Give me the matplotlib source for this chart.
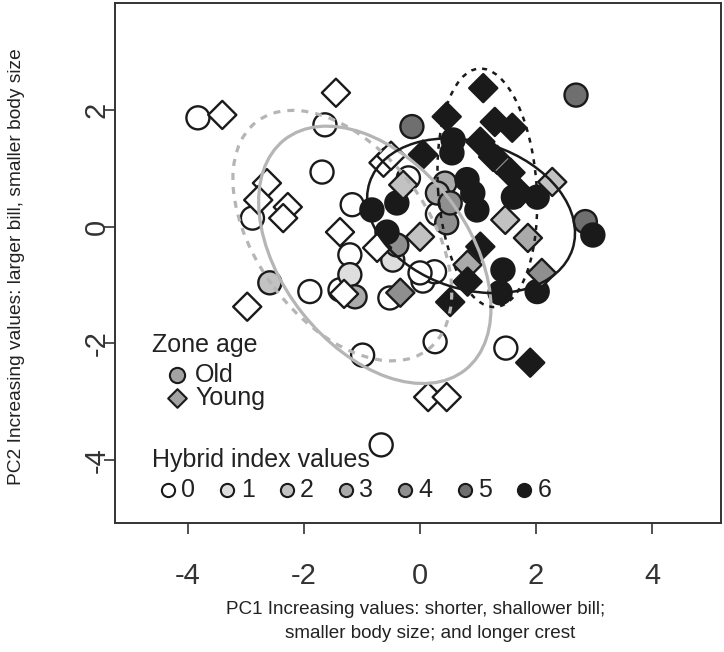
import matplotlib
matplotlib.use("Agg")
import matplotlib.pyplot as plt
from matplotlib.patches import Ellipse

plt.rcParams['font.family'] = ['Liberation Sans', 'DejaVu Sans']
plt.rcParams['axes.unicode_minus'] = False

# ---------------- data ----------------
# Old hybrid zones (circles)
old_x = [-3.83, -1.64, -1.69, -2.89, -1.90, -1.17, -1.21, -1.38, -0.52, 0.05, 0.25, 0.30, 0.00,
         -0.99, 0.26, 1.48, -0.67, -0.20,
         -1.21, -0.47,
         -2.59,
         -1.12, 0.43, 0.30,
         -0.40, 0.46, 0.52,
         -0.14, 2.69, 2.85,
         0.57, 0.55, -0.83, -0.40, -0.57, 0.81, 0.91, 0.98, 2.02, 1.61, 2.98, 1.43, 1.38, 2.02]
old_y = [1.87, 1.75, 0.94, 0.15, -1.11, 0.38, -0.48, -1.08, -1.22, -0.93, -0.77, 0.22, -0.79,
         -2.20, -1.97, -2.08, -3.74, 0.84,
         -0.82, -0.57,
         -0.96,
         -1.20, 0.75, 0.58,
         -0.31, 0.07, 0.41,
         1.72, 2.26, 0.09,
         1.49, 1.27, 0.29, 0.41, -0.09, 0.81, 0.58, 0.29, 0.51, 0.51, -0.14, -0.74, -1.13, -1.11]
old_hi = [0] * 18 + [1] * 2 + [2] + [3] * 3 + [4] * 3 + [5] * 3 + [6] * 14

# Young hybrid zones (diamonds)
young_x = [-3.41, -1.45, -2.64, -2.79, -2.28, -2.36, -2.98, -0.63, -0.50, -1.38, -0.74, 0.14, 0.46, -1.31,
           -0.29, 0.00, 1.47, 2.28,
           1.86, 0.82,
           -0.34, 1.33, 2.10,
           0.46, 1.09, 1.29, 1.59, 1.04, 0.05, 1.56, 1.72, 1.04, 0.82, 0.52, 1.90, 1.26]
young_y = [1.92, 2.30, 0.75, 0.46, 0.34, 0.15, -1.37, 1.10, 1.22, -0.09, -0.36, -2.92, -2.92, -1.15,
           0.72, -0.17, 0.12, 0.77,
           -0.19, -0.65,
           -1.13, 1.15, -0.79,
           1.89, 2.38, 1.80, 1.70, 1.46, 1.24, 0.93, 0.58, -0.34, -0.94, -1.29, -2.33, 1.20]
young_hi = [0] * 14 + [2] * 4 + [3] * 2 + [4] * 3 + [6] * 13

hi_levels = [0, 1, 2, 3, 4, 5, 6]
hi_colors = ['#ffffff', '#dedede', '#c2c2c2', '#aaaaaa', '#8f8f8f', '#6f6f6f', '#1a1a1a']

# Ellipses: centre x, centre y, width, height, angle
ell_names = ['young0', 'old0', 'old6', 'young6']
ell_cx = [-1.34, -0.78, 0.88, 1.16]
ell_cy = [-0.15, -0.48, 0.19, 0.67]
ell_w = [4.9, 5.03, 3.68, 4.1]
ell_h = [2.95, 3.2, 2.52, 1.70]
ell_ang = [-53, -51.6, -18, -86]
ell_col = ['#b5b5b5', '#b5b5b5', '#1a1a1a', '#1a1a1a']
ell_ls = [(0, (2.2, 2.2)), '-', '-', (0, (2.0, 2.4))]

xticks = [-4, -2, 0, 2, 4]
yticks = [-4, -2, 0, 2]

# ---------------- plot ----------------
fig = plt.figure(figsize=(7.24, 6.52), dpi=100)
ax = fig.add_axes([115 / 724, 1 - 523 / 652, 606 / 724, 520 / 652])
ax.set_xlim(-5.26, 5.19)
ax.set_ylim(-5.08, 3.84)

edge = '#1a1a1a'
ax.scatter(old_x, old_y, s=275, marker='o', c=[hi_colors[h] for h in old_hi],
           edgecolors=edge, linewidths=1.7, zorder=3)
ax.scatter(young_x, young_y, s=205, marker='D', c=[hi_colors[h] for h in young_hi],
           edgecolors=edge, linewidths=1.7, zorder=3)

for cx, cy, w, h, a, col, ls in zip(ell_cx, ell_cy, ell_w, ell_h, ell_ang, ell_col, ell_ls):
    lw = 2.3 if col != '#1a1a1a' else 1.8
    ax.add_patch(Ellipse((cx, cy), w, h, angle=a, fill=False, edgecolor=col,
                         linewidth=lw, linestyle=ls, zorder=4))

ax.set_xticks(xticks)
ax.set_xticklabels([str(t) for t in xticks])
ax.set_yticks(yticks)
ax.set_yticklabels([str(t) for t in yticks], rotation=90, va='center', ha='center')
ax.tick_params(axis='x', length=8, width=1.2, labelsize=21, pad=20, colors='#333333')
ax.tick_params(axis='y', length=8, width=1.2, labelsize=21, pad=5, colors='#333333')
for sp in ax.spines.values():
    sp.set_color('#333333')
    sp.set_linewidth(1.4)

# legend: zone age
tx = ax.transAxes
lfs = 18
ax.text(0.061, 0.342, 'Zone age', transform=tx, fontsize=lfs, va='center', ha='left', color='#222222')
ax.scatter([0.102], [0.285], s=120, marker='o', c='#a3a3a3', edgecolors=edge, linewidths=1.5,
           transform=tx, zorder=5, clip_on=False)
ax.text(0.132, 0.285, 'Old', transform=tx, fontsize=lfs, va='center', ha='left', color='#222222')
ax.scatter([0.102], [0.240], s=90, marker='D', c='#a3a3a3', edgecolors=edge, linewidths=1.5,
           transform=tx, zorder=5, clip_on=False)
ax.text(0.132, 0.240, 'Young', transform=tx, fontsize=lfs, va='center', ha='left', color='#222222')

# legend: hybrid index
ax.text(0.061, 0.121, 'Hybrid index values', transform=tx, fontsize=lfs, va='center', ha='left',
        color='#222222')
for i, (lev, col) in enumerate(zip(hi_levels, hi_colors)):
    mx = 0.0875 + i * 0.0979
    ax.scatter([mx], [0.063], s=90, marker='o', c=col, edgecolors=edge, linewidths=1.5,
               transform=tx, zorder=5, clip_on=False)
    ax.text(mx + 0.022, 0.063, str(lev), transform=tx, fontsize=lfs, va='center', ha='left',
            color='#222222')

fig.text(416 / 724, 1 - 610 / 652, 'PC1 Increasing values: shorter, shallower bill;',
         ha='center', va='center', fontsize=13.6, color='#222222')
fig.text(430 / 724, 1 - 633 / 652, 'smaller body size; and longer crest',
         ha='center', va='center', fontsize=13.6, color='#222222')
fig.text(17 / 724, 1 - 267 / 652, 'PC2 Increasing values: larger bill, smaller body size',
         ha='center', va='center', rotation=90, fontsize=13.8, color='#222222')

fig.savefig('out.png', dpi=100)
